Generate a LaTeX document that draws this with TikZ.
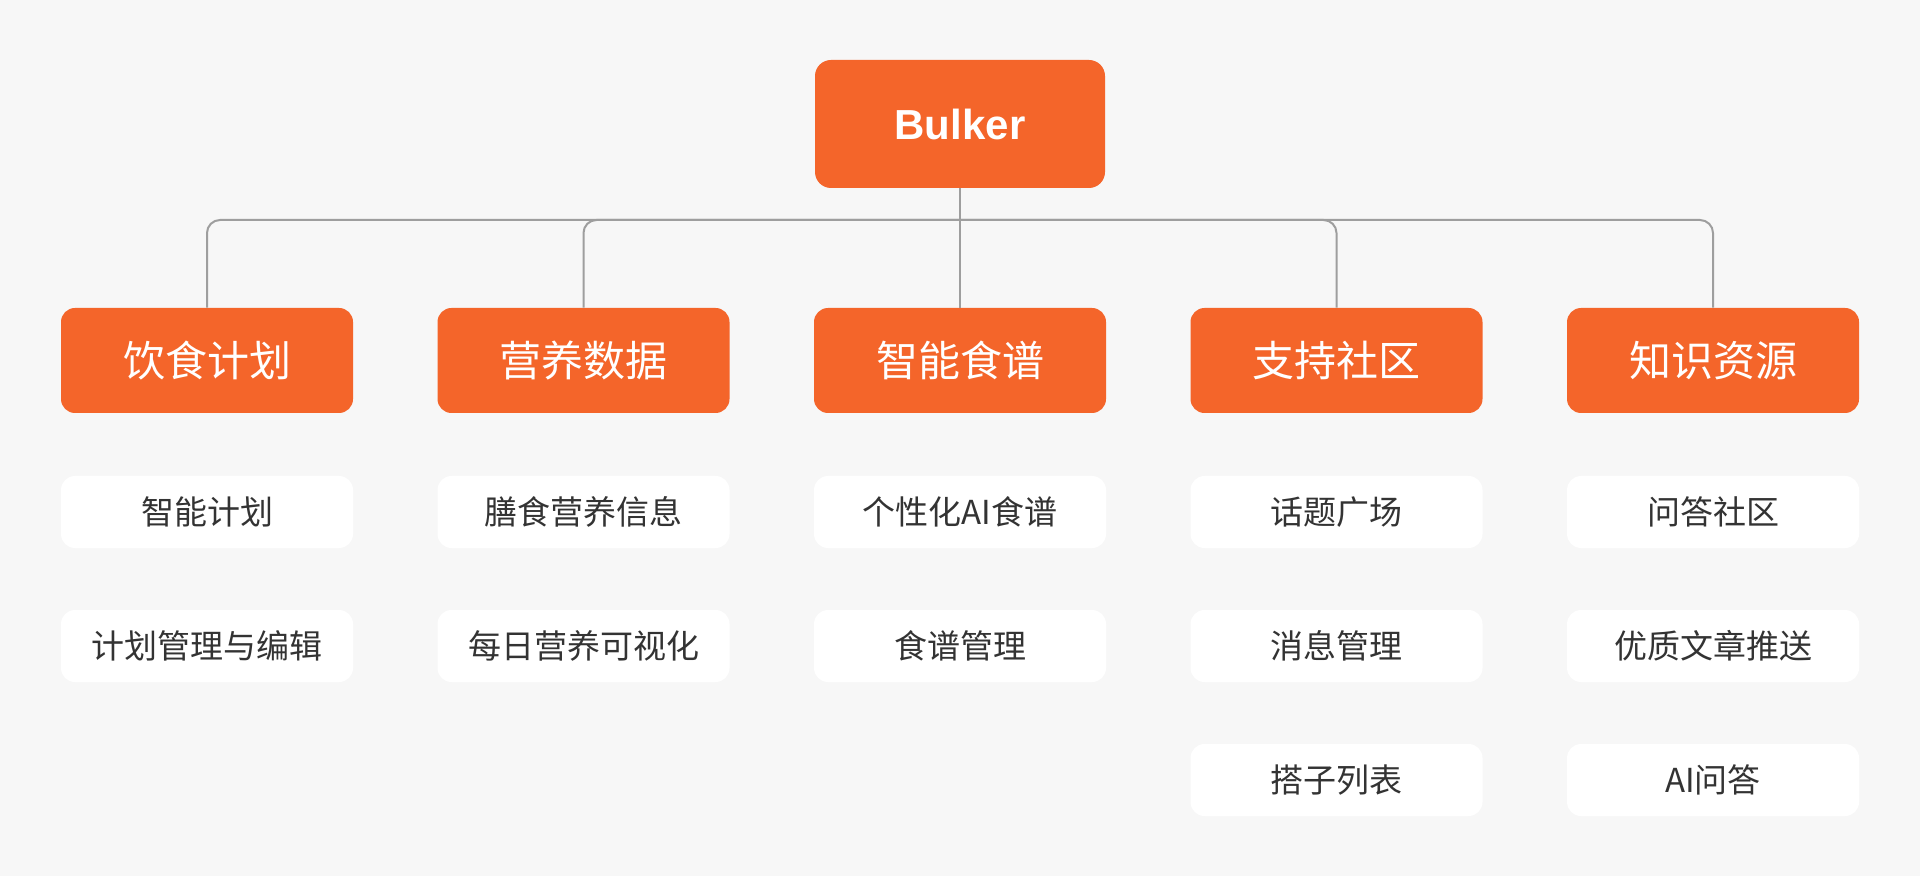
\documentclass[tikz,border=0pt]{standalone}
\usepackage{fontspec}
\setmainfont{Noto Sans CJK SC}
\newfontfamily\rootfont{Liberation Sans}
\definecolor{bulkerorange}{HTML}{F4652A}
\definecolor{pagebg}{HTML}{F7F7F7}
\definecolor{linkgray}{HTML}{9E9E9E}
\definecolor{itemtext}{HTML}{333333}
\begin{document}
\begin{tikzpicture}[x=0.5pt,y=-0.5pt,
    rootbox/.style={fill=bulkerorange, rounded corners=8pt, inner sep=0pt,
      minimum width=145pt, minimum height=64pt, text=white,
      font=\rootfont\fontsize{21}{25}\selectfont\bfseries},
    groupbox/.style={fill=bulkerorange, rounded corners=7pt, inner sep=0pt,
      minimum width=146pt, minimum height=52.5pt, text=white,
      font=\fontsize{21}{25}\selectfont},
    itembox/.style={fill=white, rounded corners=7pt, inner sep=0pt,
      minimum width=146pt, minimum height=36pt, text=itemtext,
      font=\fontsize{16.5}{20}\selectfont},
    link/.style={draw=linkgray, line width=1pt}]

    % Page background and fixed margins
    \fill[pagebg] (0,0) rectangle (1920,876);
    \useasboundingbox (0,0) rectangle (1920,876);

    % Column centres and row heights
    \def\colA{207}
    \def\colB{583.5}
    \def\colC{960}
    \def\colD{1336.5}
    \def\colE{1713}
    \def\rowone{512}
    \def\rowtwo{646}
    \def\rowthree{780}

    % Root of the tree
    \node[rootbox] (root) at (\colC,124) {Bulker};

    % First level: the five modules
    \node[groupbox] (diet)      at (\colA,360.5) {饮食计划};
    \node[groupbox] (nutrition) at (\colB,360.5) {营养数据};
    \node[groupbox] (recipe)    at (\colC,360.5) {智能食谱};
    \node[groupbox] (community) at (\colD,360.5) {支持社区};
    \node[groupbox] (knowledge) at (\colE,360.5) {知识资源};

    % Connectors: trunk, then one branch per module
    \coordinate (bus) at (\colC,220);
    \draw[link] (root.south) -- (bus);
    \draw[link, rounded corners=6.5pt] (bus) -| (diet.north);
    \draw[link, rounded corners=6.5pt] (bus) -| (nutrition.north);
    \draw[link] (bus) -- (recipe.north);
    \draw[link, rounded corners=6.5pt] (bus) -| (community.north);
    \draw[link, rounded corners=6.5pt] (bus) -| (knowledge.north);

    % Second level: features of each module
    \node[itembox] (diet-a) at (\colA,\rowone) {智能计划};
    \node[itembox] (diet-b) at (\colA,\rowtwo) {计划管理与编辑};

    \node[itembox] (nutrition-a) at (\colB,\rowone) {膳食营养信息};
    \node[itembox] (nutrition-b) at (\colB,\rowtwo) {每日营养可视化};

    \node[itembox] (recipe-a) at (\colC,\rowone) {个性化AI食谱};
    \node[itembox] (recipe-b) at (\colC,\rowtwo) {食谱管理};

    \node[itembox] (community-a) at (\colD,\rowone) {话题广场};
    \node[itembox] (community-b) at (\colD,\rowtwo) {消息管理};
    \node[itembox] (community-c) at (\colD,\rowthree) {搭子列表};

    \node[itembox] (knowledge-a) at (\colE,\rowone) {问答社区};
    \node[itembox] (knowledge-b) at (\colE,\rowtwo) {优质文章推送};
    \node[itembox] (knowledge-c) at (\colE,\rowthree) {AI问答};

\end{tikzpicture}
\end{document}
